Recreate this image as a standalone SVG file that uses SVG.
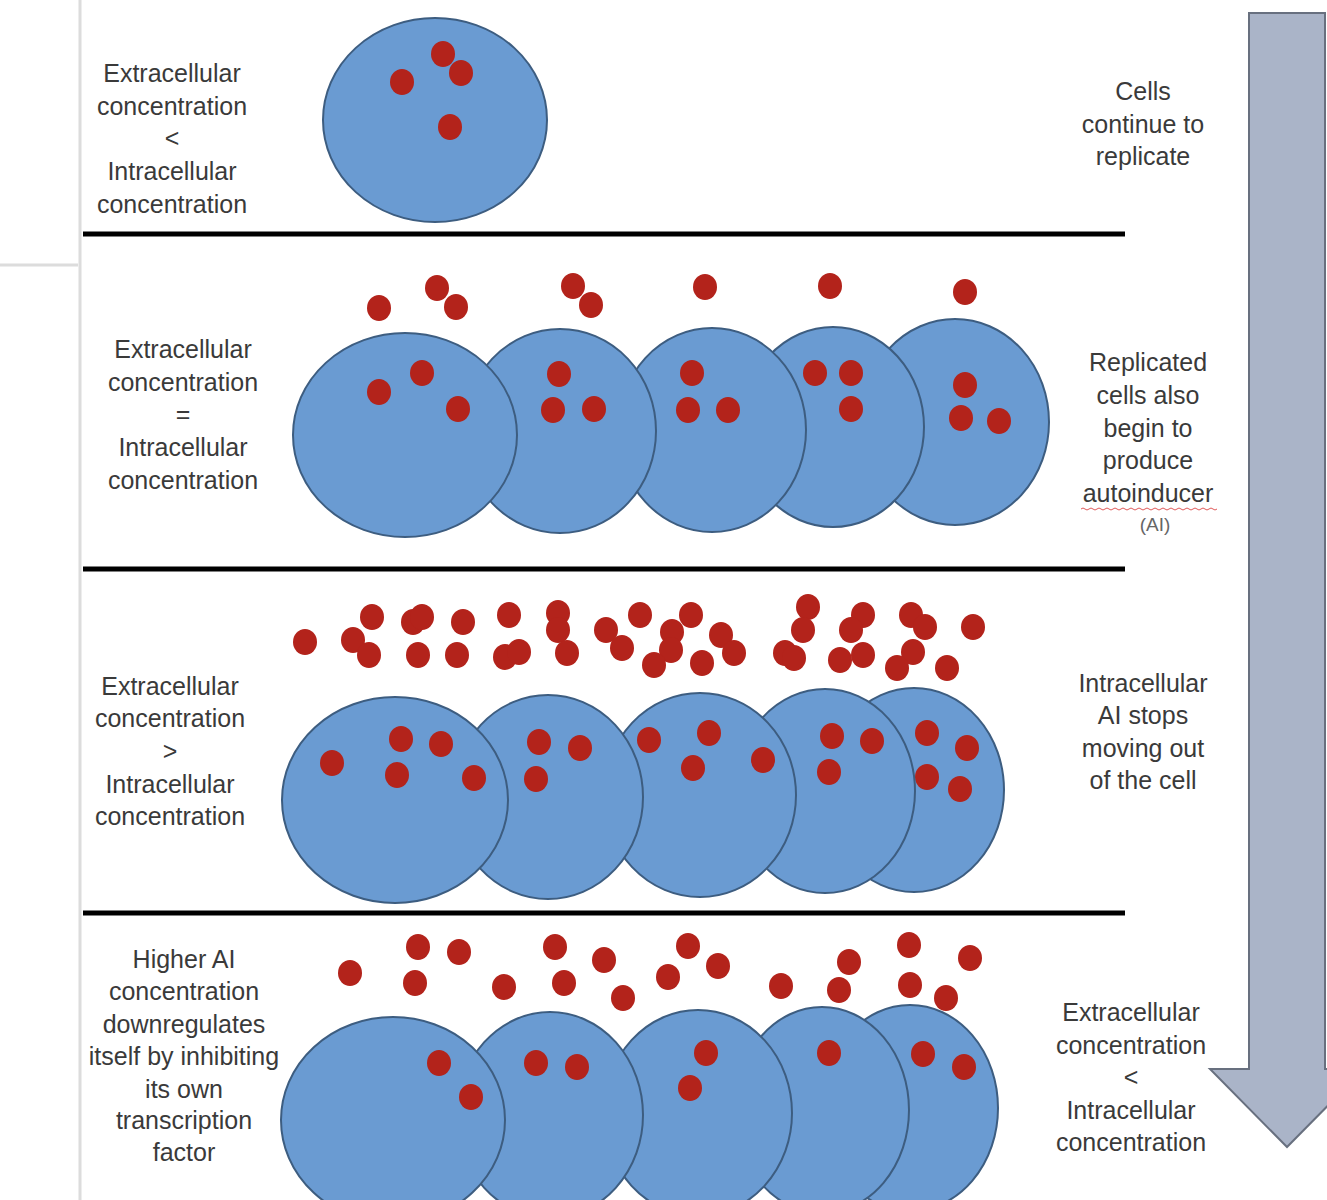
<svg xmlns="http://www.w3.org/2000/svg" xmlns:xlink="http://www.w3.org/1999/xlink" width="1327" height="1200" viewBox="0 0 1327 1200">
<style>
.cell{fill:#6a9bd2;stroke:#3d5d80;stroke-width:2}
.ai{fill:#b3231b}
.t{font-family:"Liberation Sans",Arial,sans-serif;font-size:25px;fill:#3a3a3a;text-anchor:middle}
.sm{font-size:19px;fill:#666}
.sep{stroke:#000;stroke-width:5}
.edge{stroke:#dcdcdc;stroke-width:3}
</style>
<defs>
<ellipse id="d" class="ai" cx="0" cy="0" rx="12" ry="13"/>
</defs>
<rect width="1327" height="1200" fill="#fff"/>
<g id="frame">
<line class="edge" x1="80" y1="0" x2="80" y2="1200"/>
<line class="edge" x1="0" y1="265" x2="78" y2="265"/>
<line class="sep" x1="83" y1="234" x2="1125" y2="234"/>
<line class="sep" x1="83" y1="569" x2="1125" y2="569"/>
<line class="sep" x1="83" y1="913" x2="1125" y2="913"/>
</g>
<g id="connectors">
<polygon points="1249,13 1325,13 1325,1069 1364,1069 1287,1147 1210,1069 1249,1069" fill="#aab4c8" stroke="#68707f" stroke-width="2"/>
</g>

<g id="row1">
<g id="r1c1"><ellipse class="cell" cx="435" cy="120" rx="112" ry="102"/>
<use href="#d" x="402" y="82"/><use href="#d" x="443" y="54"/><use href="#d" x="461" y="73"/><use href="#d" x="450" y="127"/></g>
<text class="t" x="172" y="82">Extracellular</text>
<text class="t" x="172" y="115">concentration</text>
<text class="t" x="172" y="147">&lt;</text>
<text class="t" x="172" y="180">Intracellular</text>
<text class="t" x="172" y="213">concentration</text>
<text class="t" x="1143" y="100">Cells</text>
<text class="t" x="1143" y="133">continue to</text>
<text class="t" x="1143" y="165">replicate</text>
</g>

<g id="row2">
<g id="r2out">
<use href="#d" x="379" y="308"/><use href="#d" x="437" y="288"/><use href="#d" x="456" y="307"/>
<use href="#d" x="573" y="286"/><use href="#d" x="591" y="305"/><use href="#d" x="705" y="287"/>
<use href="#d" x="830" y="286"/><use href="#d" x="965" y="292"/>
</g>
<g id="r2c5"><ellipse class="cell" cx="955" cy="422" rx="94" ry="103"/>
<use href="#d" x="965" y="385"/><use href="#d" x="961" y="418"/><use href="#d" x="999" y="421"/></g>
<g id="r2c4"><ellipse class="cell" cx="833" cy="427" rx="91" ry="100"/>
<use href="#d" x="815" y="373"/><use href="#d" x="851" y="373"/><use href="#d" x="851" y="409"/></g>
<g id="r2c3"><ellipse class="cell" cx="712" cy="430" rx="94" ry="102"/>
<use href="#d" x="692" y="373"/><use href="#d" x="688" y="410"/><use href="#d" x="728" y="410"/></g>
<g id="r2c2"><ellipse class="cell" cx="560" cy="431" rx="96" ry="102"/>
<use href="#d" x="559" y="374"/><use href="#d" x="553" y="410"/><use href="#d" x="594" y="409"/></g>
<g id="r2c1"><ellipse class="cell" cx="405" cy="435" rx="112" ry="102"/>
<use href="#d" x="379" y="392"/><use href="#d" x="422" y="373"/><use href="#d" x="458" y="409"/></g>
<text class="t" x="183" y="358">Extracellular</text>
<text class="t" x="183" y="391">concentration</text>
<text class="t" x="183" y="423">=</text>
<text class="t" x="183" y="456">Intracellular</text>
<text class="t" x="183" y="489">concentration</text>
<text class="t" x="1148" y="371">Replicated</text>
<text class="t" x="1148" y="404">cells also</text>
<text class="t" x="1148" y="437">begin to</text>
<text class="t" x="1148" y="469">produce</text>
<text class="t" x="1148" y="502">autoinducer</text>
<path d="M1081,509 q2,-2 4,0 t4,0 t4,0 t4,0 t4,0 t4,0 t4,0 t4,0 t4,0 t4,0 t4,0 t4,0 t4,0 t4,0 t4,0 t4,0 t4,0 t4,0 t4,0 t4,0 t4,0 t4,0 t4,0 t4,0 t4,0 t4,0 t4,0 t4,0 t4,0 t4,0 t4,0 t4,0 t4,0 t4,0" fill="none" stroke="#e05a5a" stroke-width="1"/>
<text class="t sm" x="1155" y="531">(AI)</text>
</g>

<g id="row3">
<g id="r3out">
<use href="#d" x="305" y="642"/><use href="#d" x="372" y="617"/><use href="#d" x="353" y="640"/><use href="#d" x="369" y="655"/>
<use href="#d" x="413" y="622"/><use href="#d" x="422" y="617"/><use href="#d" x="418" y="655"/><use href="#d" x="463" y="622"/>
<use href="#d" x="457" y="655"/><use href="#d" x="509" y="615"/><use href="#d" x="505" y="657"/><use href="#d" x="519" y="652"/>
<use href="#d" x="558" y="613"/><use href="#d" x="558" y="630"/><use href="#d" x="567" y="653"/><use href="#d" x="606" y="630"/>
<use href="#d" x="622" y="648"/><use href="#d" x="640" y="615"/><use href="#d" x="672" y="632"/><use href="#d" x="671" y="650"/>
<use href="#d" x="654" y="665"/><use href="#d" x="691" y="615"/><use href="#d" x="721" y="635"/><use href="#d" x="702" y="663"/>
<use href="#d" x="734" y="653"/><use href="#d" x="808" y="607"/><use href="#d" x="803" y="630"/><use href="#d" x="785" y="653"/>
<use href="#d" x="794" y="658"/><use href="#d" x="863" y="615"/><use href="#d" x="851" y="630"/><use href="#d" x="840" y="660"/>
<use href="#d" x="863" y="655"/><use href="#d" x="911" y="615"/><use href="#d" x="925" y="627"/><use href="#d" x="913" y="652"/>
<use href="#d" x="897" y="668"/><use href="#d" x="947" y="668"/><use href="#d" x="973" y="627"/>
</g>
<g id="r3c5"><ellipse class="cell" cx="914" cy="790" rx="90" ry="102"/>
<use href="#d" x="927" y="733"/><use href="#d" x="967" y="748"/><use href="#d" x="927" y="777"/><use href="#d" x="960" y="789"/></g>
<g id="r3c4"><ellipse class="cell" cx="825" cy="791" rx="90" ry="102"/>
<use href="#d" x="832" y="736"/><use href="#d" x="872" y="741"/><use href="#d" x="829" y="772"/></g>
<g id="r3c3"><ellipse class="cell" cx="700" cy="795" rx="96" ry="102"/>
<use href="#d" x="649" y="740"/><use href="#d" x="709" y="733"/><use href="#d" x="693" y="768"/><use href="#d" x="763" y="760"/></g>
<g id="r3c2"><ellipse class="cell" cx="548" cy="797" rx="95" ry="102"/>
<use href="#d" x="539" y="742"/><use href="#d" x="580" y="748"/><use href="#d" x="536" y="779"/></g>
<g id="r3c1"><ellipse class="cell" cx="395" cy="800" rx="113" ry="103"/>
<use href="#d" x="332" y="763"/><use href="#d" x="401" y="739"/><use href="#d" x="441" y="744"/><use href="#d" x="397" y="775"/><use href="#d" x="474" y="778"/></g>
<text class="t" x="170" y="695">Extracellular</text>
<text class="t" x="170" y="727">concentration</text>
<text class="t" x="170" y="760">&gt;</text>
<text class="t" x="170" y="793">Intracellular</text>
<text class="t" x="170" y="825">concentration</text>
<text class="t" x="1143" y="692">Intracellular</text>
<text class="t" x="1143" y="724">AI stops</text>
<text class="t" x="1143" y="757">moving out</text>
<text class="t" x="1143" y="789">of the cell</text>
</g>

<g id="row4">
<g id="r4out">
<use href="#d" x="350" y="973"/><use href="#d" x="418" y="947"/><use href="#d" x="459" y="952"/><use href="#d" x="415" y="983"/>
<use href="#d" x="504" y="987"/><use href="#d" x="555" y="947"/><use href="#d" x="564" y="983"/><use href="#d" x="604" y="960"/>
<use href="#d" x="623" y="998"/><use href="#d" x="668" y="977"/><use href="#d" x="688" y="946"/><use href="#d" x="718" y="966"/>
<use href="#d" x="781" y="986"/><use href="#d" x="839" y="990"/><use href="#d" x="849" y="962"/><use href="#d" x="909" y="945"/>
<use href="#d" x="910" y="985"/><use href="#d" x="946" y="998"/><use href="#d" x="970" y="958"/>
</g>
<g id="r4c5"><ellipse class="cell" cx="910" cy="1108" rx="88" ry="103"/>
<use href="#d" x="923" y="1054"/><use href="#d" x="964" y="1067"/></g>
<g id="r4c4"><ellipse class="cell" cx="822" cy="1110" rx="87" ry="103"/>
<use href="#d" x="829" y="1053"/></g>
<g id="r4c3"><ellipse class="cell" cx="698" cy="1113" rx="94" ry="103"/>
<use href="#d" x="706" y="1053"/><use href="#d" x="690" y="1088"/></g>
<g id="r4c2"><ellipse class="cell" cx="550" cy="1115" rx="93" ry="103"/>
<use href="#d" x="536" y="1063"/><use href="#d" x="577" y="1067"/></g>
<g id="r4c1"><ellipse class="cell" cx="393" cy="1120" rx="112" ry="103"/>
<use href="#d" x="439" y="1063"/><use href="#d" x="471" y="1097"/></g>
<text class="t" x="184" y="968">Higher AI</text>
<text class="t" x="184" y="1000">concentration</text>
<text class="t" x="184" y="1033">downregulates</text>
<text class="t" x="184" y="1065">itself by inhibiting</text>
<text class="t" x="184" y="1098">its own</text>
<text class="t" x="184" y="1129">transcription</text>
<text class="t" x="184" y="1161">factor</text>
<text class="t" x="1131" y="1021">Extracellular</text>
<text class="t" x="1131" y="1054">concentration</text>
<text class="t" x="1131" y="1086">&lt;</text>
<text class="t" x="1131" y="1119">Intracellular</text>
<text class="t" x="1131" y="1151">concentration</text>
</g>
</svg>
